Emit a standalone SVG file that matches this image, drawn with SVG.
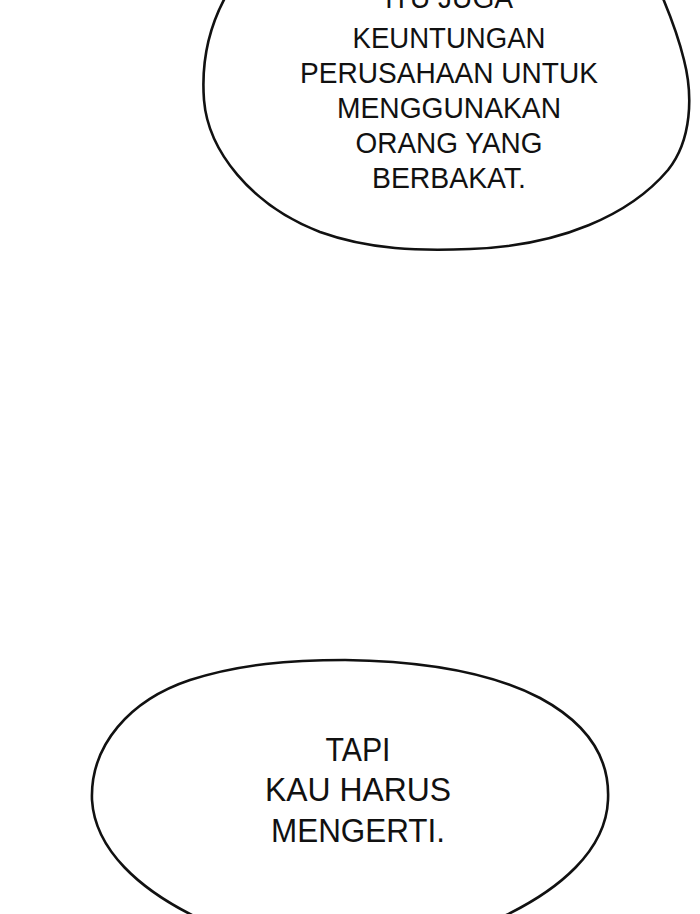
<svg xmlns="http://www.w3.org/2000/svg" width="700" height="914" viewBox="0 0 700 914">
<style>
.bubble{fill:#fff;stroke:#111;stroke-width:2.6;stroke-linejoin:round}
.t{font-family:"Liberation Sans",Arial,sans-serif;fill:#111;text-anchor:middle}
.t1{font-size:29px}
.t2{font-size:34px}
</style>
<rect width="700" height="914" fill="#fff"/>
<g id="bubble-top">
<path class="bubble" d="M226,-4 C210,25 201,60 204,100 C208,150 250,205 320,232 C370,250 420,251 470,249 C560,246 630,215 668,170 C692,140 693,95 684,60 C678,35 670,15 662,-4"/>
<text class="t t1" x="449" y="8" textLength="128" lengthAdjust="spacingAndGlyphs">ITU JUGA</text>
<text class="t t1" x="449" y="48" textLength="193" lengthAdjust="spacingAndGlyphs">KEUNTUNGAN</text>
<text class="t t1" x="449" y="83" textLength="298" lengthAdjust="spacingAndGlyphs">PERUSAHAAN UNTUK</text>
<text class="t t1" x="449" y="118" textLength="224" lengthAdjust="spacingAndGlyphs">MENGGUNAKAN</text>
<text class="t t1" x="449" y="153" textLength="187" lengthAdjust="spacingAndGlyphs">ORANG YANG</text>
<text class="t t1" x="449" y="188" textLength="154" lengthAdjust="spacingAndGlyphs">BERBAKAT.</text>
</g>
<g id="bubble-bottom">
<path class="bubble" d="M198,918 C140,890 95,850 92,800 C90,745 130,700 190,680 C240,664 290,660 345,660 C420,661 490,672 540,698 C590,725 610,760 608,800 C606,850 560,890 500,918"/>
<text class="t t2" x="358" y="761" textLength="65" lengthAdjust="spacingAndGlyphs">TAPI</text>
<text class="t t2" x="358" y="801" textLength="186" lengthAdjust="spacingAndGlyphs">KAU HARUS</text>
<text class="t t2" x="358" y="842" textLength="174" lengthAdjust="spacingAndGlyphs">MENGERTI.</text>
</g>
</svg>
